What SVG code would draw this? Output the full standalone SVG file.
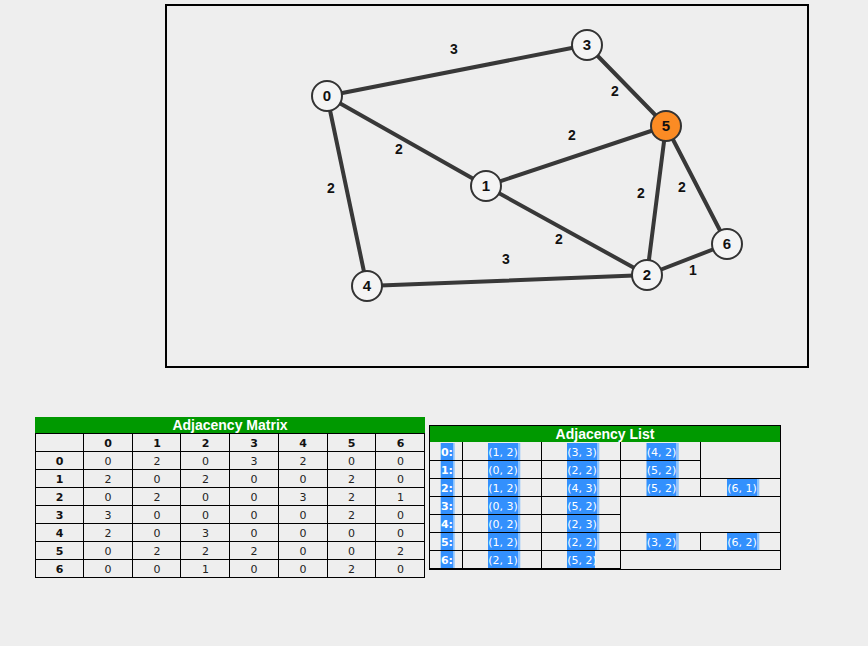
<svg xmlns="http://www.w3.org/2000/svg" width="868" height="646" viewBox="0 0 868 646">
<style>
.edge{stroke:#383838;stroke-width:4;stroke-linecap:round}
.node circle{fill:#f4f4f4;stroke:#333;stroke-width:2}
.node.hl circle{fill:#fb8b24}
.nl{font-family:"Liberation Sans",Arial,sans-serif;font-weight:bold;font-size:15px;fill:#111;text-anchor:middle}
.el{font-family:"Liberation Sans",Arial,sans-serif;font-weight:bold;font-size:14px;fill:#111;text-anchor:middle}
.title{font-family:"Liberation Sans",Arial,sans-serif;font-weight:bold;font-size:14px;fill:#fff;text-anchor:middle}
.grid{stroke:#000;stroke-width:1;fill:none}
.mh{font-family:"DejaVu Sans",Tahoma,sans-serif;font-weight:bold;font-size:11px;fill:#111;text-anchor:middle}
.mv{font-family:"DejaVu Sans",Tahoma,sans-serif;font-size:11px;fill:#222;text-anchor:middle}
.lb{font-family:"DejaVu Sans",Tahoma,sans-serif;font-weight:bold;font-size:11px;fill:#fff;text-anchor:middle}
.lv{font-family:"DejaVu Sans",Tahoma,sans-serif;font-size:11px;fill:#fff;text-anchor:middle}
.sel{fill:#3390fd}
.sel2{fill:#8cc3fe}
</style>
<rect width="868" height="646" fill="#eeeeee"/>
<rect x="166" y="5" width="642" height="362" fill="#eeeeee" stroke="#000" stroke-width="2"/>

<g id="edges">
<line class="edge" x1="327" y1="96" x2="587" y2="45"/>
<line class="edge" x1="327" y1="96" x2="486" y2="186"/>
<line class="edge" x1="327" y1="96" x2="367" y2="286"/>
<line class="edge" x1="587" y1="45" x2="666" y2="126"/>
<line class="edge" x1="666" y1="126" x2="486" y2="186"/>
<line class="edge" x1="666" y1="126" x2="647" y2="275"/>
<line class="edge" x1="666" y1="126" x2="727" y2="244"/>
<line class="edge" x1="486" y1="186" x2="647" y2="275"/>
<line class="edge" x1="367" y1="286" x2="647" y2="275"/>
<line class="edge" x1="647" y1="275" x2="727" y2="244"/>
<text class="el" x="454" y="54">3</text>
<text class="el" x="615" y="96">2</text>
<text class="el" x="572" y="140">2</text>
<text class="el" x="399" y="154">2</text>
<text class="el" x="331" y="193">2</text>
<text class="el" x="641" y="198">2</text>
<text class="el" x="682" y="192">2</text>
<text class="el" x="559" y="244">2</text>
<text class="el" x="506" y="264">3</text>
<text class="el" x="693" y="275">1</text>
</g>

<g id="node0" class="node"><circle cx="327" cy="96" r="15"/><text class="nl" x="327" y="101">0</text></g>
<g id="node1" class="node"><circle cx="486" cy="186" r="15"/><text class="nl" x="486" y="191">1</text></g>
<g id="node2" class="node"><circle cx="647" cy="275" r="15"/><text class="nl" x="647" y="280">2</text></g>
<g id="node3" class="node"><circle cx="587" cy="45" r="15"/><text class="nl" x="587" y="50">3</text></g>
<g id="node4" class="node"><circle cx="367" cy="286" r="15"/><text class="nl" x="367" y="291">4</text></g>
<g id="node5" class="node hl"><circle cx="666" cy="126" r="15"/><text class="nl" x="666" y="131">5</text></g>
<g id="node6" class="node"><circle cx="727" cy="244" r="15"/><text class="nl" x="727" y="249">6</text></g>

<g id="matrix">
<rect x="35" y="417" width="390" height="16.5" fill="#009900"/>
<text class="title" x="230" y="430">Adjacency Matrix</text>
<rect class="grid" x="35.5" y="433.5" width="389" height="144"/>
<path class="grid" d="M35 451.5H425M35 469.5H425M35 487.5H425M35 505.5H425M35 523.5H425M35 541.5H425M35 559.5H425
M83.5 433V578M132.5 433V578M180.5 433V578M229.5 433V578M278.5 433V578M327.5 433V578M375.5 433V578"/>
<g class="mh">
<text x="108" y="446.5">0</text><text x="157" y="446.5">1</text><text x="205.5" y="446.5">2</text><text x="254" y="446.5">3</text><text x="303" y="446.5">4</text><text x="351.5" y="446.5">5</text><text x="400.5" y="446.5">6</text>
<text x="59.5" y="464.5">0</text><text x="59.5" y="482.5">1</text><text x="59.5" y="500.5">2</text><text x="59.5" y="518.5">3</text><text x="59.5" y="536.5">4</text><text x="59.5" y="554.5">5</text><text x="59.5" y="572.5">6</text>
</g>
<g class="mv">
<text x="108" y="464.5">0</text><text x="157" y="464.5">2</text><text x="205.5" y="464.5">0</text><text x="254" y="464.5">3</text><text x="303" y="464.5">2</text><text x="351.5" y="464.5">0</text><text x="400.5" y="464.5">0</text>
<text x="108" y="482.5">2</text><text x="157" y="482.5">0</text><text x="205.5" y="482.5">2</text><text x="254" y="482.5">0</text><text x="303" y="482.5">0</text><text x="351.5" y="482.5">2</text><text x="400.5" y="482.5">0</text>
<text x="108" y="500.5">0</text><text x="157" y="500.5">2</text><text x="205.5" y="500.5">0</text><text x="254" y="500.5">0</text><text x="303" y="500.5">3</text><text x="351.5" y="500.5">2</text><text x="400.5" y="500.5">1</text>
<text x="108" y="518.5">3</text><text x="157" y="518.5">0</text><text x="205.5" y="518.5">0</text><text x="254" y="518.5">0</text><text x="303" y="518.5">0</text><text x="351.5" y="518.5">2</text><text x="400.5" y="518.5">0</text>
<text x="108" y="536.5">2</text><text x="157" y="536.5">0</text><text x="205.5" y="536.5">3</text><text x="254" y="536.5">0</text><text x="303" y="536.5">0</text><text x="351.5" y="536.5">0</text><text x="400.5" y="536.5">0</text>
<text x="108" y="554.5">0</text><text x="157" y="554.5">2</text><text x="205.5" y="554.5">2</text><text x="254" y="554.5">2</text><text x="303" y="554.5">0</text><text x="351.5" y="554.5">0</text><text x="400.5" y="554.5">2</text>
<text x="108" y="572.5">0</text><text x="157" y="572.5">0</text><text x="205.5" y="572.5">1</text><text x="254" y="572.5">0</text><text x="303" y="572.5">0</text><text x="351.5" y="572.5">2</text><text x="400.5" y="572.5">0</text>
</g>
</g>

<g id="adjlist">
<rect x="429" y="425" width="352" height="17" fill="#009900"/>
<text class="title" x="605" y="438.5">Adjacency List</text>
<!-- highlights: label column -->
<g>
<rect class="sel" x="440.7" y="443" width="12.3" height="17"/><rect class="sel2" x="453" y="443" width="1.7" height="17"/>
<rect class="sel" x="440.7" y="461" width="12.3" height="17"/><rect class="sel2" x="453" y="461" width="1.7" height="17"/>
<rect class="sel" x="440.7" y="479" width="12.3" height="17"/><rect class="sel2" x="453" y="479" width="1.7" height="17"/>
<rect class="sel" x="440.7" y="497" width="12.3" height="17"/><rect class="sel2" x="453" y="497" width="1.7" height="17"/>
<rect class="sel" x="440.7" y="515" width="12.3" height="17"/><rect class="sel2" x="453" y="515" width="1.7" height="17"/>
<rect class="sel" x="440.7" y="533" width="12.3" height="17"/><rect class="sel2" x="453" y="533" width="1.7" height="17"/>
<rect class="sel" x="440.7" y="551" width="12.3" height="17"/><rect class="sel2" x="453" y="551" width="1.7" height="17"/>
</g>
<g>
<!-- row 0 -->
<rect class="sel" x="488" y="443" width="30" height="17"/><rect class="sel2" x="518" y="443" width="2.3" height="17"/>
<rect class="sel" x="567" y="443" width="30" height="17"/><rect class="sel2" x="597" y="443" width="2.3" height="17"/>
<rect class="sel" x="646.5" y="443" width="30" height="17"/><rect class="sel2" x="676.5" y="443" width="2.3" height="17"/>
<!-- row 1 -->
<rect class="sel" x="488" y="461" width="30" height="17"/><rect class="sel2" x="518" y="461" width="2.3" height="17"/>
<rect class="sel" x="567" y="461" width="30" height="17"/><rect class="sel2" x="597" y="461" width="2.3" height="17"/>
<rect class="sel" x="646.5" y="461" width="30" height="17"/><rect class="sel2" x="676.5" y="461" width="2.3" height="17"/>
<!-- row 2 -->
<rect class="sel" x="488" y="479" width="30" height="17"/><rect class="sel2" x="518" y="479" width="2.3" height="17"/>
<rect class="sel" x="567" y="479" width="30" height="17"/><rect class="sel2" x="597" y="479" width="2.3" height="17"/>
<rect class="sel" x="646.5" y="479" width="30" height="17"/><rect class="sel2" x="676.5" y="479" width="2.3" height="17"/>
<rect class="sel" x="727" y="479" width="30" height="17"/><rect class="sel2" x="757" y="479" width="2.3" height="17"/>
<!-- row 3 -->
<rect class="sel" x="488" y="497" width="30" height="17"/><rect class="sel2" x="518" y="497" width="2.3" height="17"/>
<rect class="sel" x="567" y="497" width="30" height="17"/><rect class="sel2" x="597" y="497" width="2.3" height="17"/>
<!-- row 4 -->
<rect class="sel" x="488" y="515" width="30" height="17"/><rect class="sel2" x="518" y="515" width="2.3" height="17"/>
<rect class="sel" x="567" y="515" width="30" height="17"/><rect class="sel2" x="597" y="515" width="2.3" height="17"/>
<!-- row 5 -->
<rect class="sel" x="488" y="533" width="30" height="17"/><rect class="sel2" x="518" y="533" width="2.3" height="17"/>
<rect class="sel" x="567" y="533" width="30" height="17"/><rect class="sel2" x="597" y="533" width="2.3" height="17"/>
<rect class="sel" x="646.5" y="533" width="30" height="17"/><rect class="sel2" x="676.5" y="533" width="2.3" height="17"/>
<rect class="sel" x="727" y="533" width="30" height="17"/><rect class="sel2" x="757" y="533" width="2.3" height="17"/>
<!-- row 6 -->
<rect class="sel" x="488" y="551" width="30" height="17"/><rect class="sel2" x="518" y="551" width="2.3" height="17"/>
<rect class="sel" x="567" y="551" width="28" height="17"/>
</g>
<rect class="grid" x="429.5" y="425.5" width="351" height="144" stroke-width="1.5"/>
<path class="grid" d="M429 460.5H700.5M429 478.5H781M429 496.5H781M429 514.5H621M429 532.5H781M429 550.5H781M429 568.5H621
M462.5 442V569M541.5 442V569M620.5 442V569M700.5 442V496.5M700.5 532.5V550.5"/>
<g class="lb">
<text x="447" y="455.5">0:</text><text x="447" y="473.5">1:</text><text x="447" y="491.5">2:</text><text x="447" y="509.5">3:</text><text x="447" y="527.5">4:</text><text x="447" y="545.5">5:</text><text x="447" y="563.5">6:</text>
</g>
<g class="lv">
<text x="503" y="455.5">(1, 2)</text><text x="582" y="455.5">(3, 3)</text><text x="661.5" y="455.5">(4, 2)</text>
<text x="503" y="473.5">(0, 2)</text><text x="582" y="473.5">(2, 2)</text><text x="661.5" y="473.5">(5, 2)</text>
<text x="503" y="491.5">(1, 2)</text><text x="582" y="491.5">(4, 3)</text><text x="661.5" y="491.5">(5, 2)</text><text x="742" y="491.5">(6, 1)</text>
<text x="503" y="509.5">(0, 3)</text><text x="582" y="509.5">(5, 2)</text>
<text x="503" y="527.5">(0, 2)</text><text x="582" y="527.5">(2, 3)</text>
<text x="503" y="545.5">(1, 2)</text><text x="582" y="545.5">(2, 2)</text><text x="661.5" y="545.5">(3, 2)</text><text x="742" y="545.5">(6, 2)</text>
<text x="503" y="563.5">(2, 1)</text><text x="582" y="563.5">(5, 2)</text>
</g>
</g>
</svg>
